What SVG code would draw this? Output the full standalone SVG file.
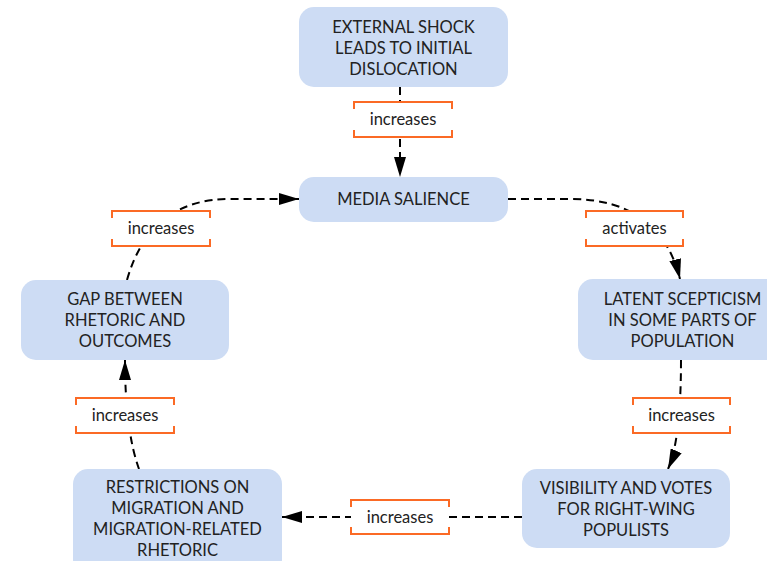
<svg xmlns="http://www.w3.org/2000/svg" width="767" height="561" viewBox="0 0 767 561">
<style>
.node rect{fill:#cddcf4;}
.node text,.lbl text{font-family:Lato,"Liberation Sans",sans-serif;font-size:16.5px;fill:#222;text-anchor:middle;}
.conn{fill:none;stroke:#000;stroke-width:2;stroke-dasharray:8,5;}
.lbl rect{fill:#fff;}
.lbl path{fill:none;stroke:#fb6a25;stroke-width:2;}
</style>
<defs>
<marker id="ah" viewBox="0 0 20 12" refX="20" refY="6" markerWidth="20" markerHeight="12" markerUnits="userSpaceOnUse" orient="auto">
<path d="M0,0 L20,6 L0,12 Z" fill="#000"/>
</marker>
</defs>
<rect width="767" height="561" fill="#fff"/>
<g id="connectors">
<path class="conn" d="M400,87 L400,177" marker-end="url(#ah)"/>
<path class="conn" d="M508,199 L570,199 Q660,199 680,279" marker-end="url(#ah)"/>
<path class="conn" d="M681,360 Q681,440 668,469" marker-end="url(#ah)"/>
<path class="conn" d="M522,517 L282,517" marker-end="url(#ah)"/>
<path class="conn" d="M139,469 Q125,430 125,360" marker-end="url(#ah)"/>
<path class="conn" d="M127,280 Q150,199 230,199 L299,199" marker-end="url(#ah)"/>
</g>
<g id="node-shock" class="node">
<rect x="299" y="7" width="209" height="80" rx="15"/>
<text x="403.5" y="33">EXTERNAL SHOCK</text>
<text x="403.5" y="54">LEADS TO INITIAL</text>
<text x="403.5" y="75">DISLOCATION</text>
</g>
<g id="node-media" class="node">
<rect x="299" y="177" width="209" height="45" rx="15"/>
<text x="403.5" y="205">MEDIA SALIENCE</text>
</g>
<g id="node-latent" class="node">
<rect x="578" y="279" width="209" height="81" rx="15"/>
<text x="682.5" y="305">LATENT SCEPTICISM</text>
<text x="682.5" y="326">IN SOME PARTS OF</text>
<text x="682.5" y="347">POPULATION</text>
</g>
<g id="node-gap" class="node">
<rect x="21" y="280" width="208" height="80" rx="15"/>
<text x="125" y="305">GAP BETWEEN</text>
<text x="125" y="326">RHETORIC AND</text>
<text x="125" y="347">OUTCOMES</text>
</g>
<g id="node-restrictions" class="node">
<rect x="73" y="469" width="209" height="105" rx="15"/>
<text x="177.5" y="493">RESTRICTIONS ON</text>
<text x="177.5" y="514">MIGRATION AND</text>
<text x="177.5" y="535">MIGRATION-RELATED</text>
<text x="177.5" y="556">RHETORIC</text>
</g>
<g id="node-visibility" class="node">
<rect x="522" y="469" width="208" height="79" rx="15"/>
<text x="626" y="494">VISIBILITY AND VOTES</text>
<text x="626" y="515">FOR RIGHT-WING</text>
<text x="626" y="536">POPULISTS</text>
</g>
<g id="label-1" class="lbl">
<rect x="354" y="102" width="98" height="35"/>
<path d="M354,109 V102 H452 V109 M354,130 V137 H452 V130"/>
<text x="403" y="125">increases</text>
</g>
<g id="label-2" class="lbl">
<rect x="586" y="211" width="97" height="35"/>
<path d="M586,218 V211 H683 V218 M586,239 V246 H683 V239"/>
<text x="634.5" y="234">activates</text>
</g>
<g id="label-3" class="lbl">
<rect x="633" y="398" width="97" height="35"/>
<path d="M633,405 V398 H730 V405 M633,426 V433 H730 V426"/>
<text x="681.5" y="421">increases</text>
</g>
<g id="label-4" class="lbl">
<rect x="351" y="500" width="98" height="34"/>
<path d="M351,507 V500 H449 V507 M351,527 V534 H449 V527"/>
<text x="400" y="523">increases</text>
</g>
<g id="label-5" class="lbl">
<rect x="76" y="398" width="98" height="35"/>
<path d="M76,405 V398 H174 V405 M76,426 V433 H174 V426"/>
<text x="125" y="421">increases</text>
</g>
<g id="label-6" class="lbl">
<rect x="112" y="211" width="98" height="35"/>
<path d="M112,218 V211 H210 V218 M112,239 V246 H210 V239"/>
<text x="161" y="234">increases</text>
</g>
</svg>
